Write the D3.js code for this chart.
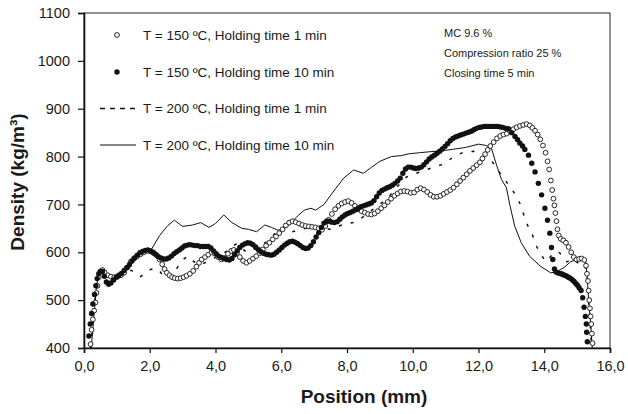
<!DOCTYPE html>
<meta charset="utf-8">
<script src="https://d3js.org/d3.v7.min.js"></script>
<style>
  body { margin: 0; background: #fff; }
  text { font-family: "Liberation Sans", Arial, sans-serif; fill: #1a1a1a; }
</style>
<svg id="chart" width="628" height="414"></svg>
<script>

// tick labels
var xTicks = [0, 2, 4, 6, 8, 10, 12, 14, 16];
var xTickLabels = ["0,0", "2,0", "4,0", "6,0", "8,0", "10,0", "12,0", "14,0", "16,0"];
var yTicks = [400, 500, 600, 700, 800, 900, 1000, 1100];

var seriesNames = [
  "T = 150 \u00baC, Holding time 1 min",
  "T = 150 \u00baC, Holding time 10 min",
  "T = 200 \u00baC, Holding time 1 min",
  "T = 200 \u00baC, Holding time 10 min"
];

var notes = ["MC 9.6 %", "Compression ratio 25 %", "Closing time 5 min"];

// T = 150, 1 min  (open circles)  [position mm, density]
var t150h1 = [
  [0.20,408],[0.23,438],[0.27,460],[0.31,478],[0.35,495],[0.38,515],[0.41,530],[0.45,548],[0.50,560],[0.56,563],
  [0.63,558],[0.72,552],[0.82,549],[0.92,548],[1.02,549],[1.12,552],[1.22,557],[1.32,568],[1.42,580],[1.52,587],
  [1.62,592],[1.72,596],[1.82,600],[1.92,603],[2.02,602],[2.12,598],[2.22,593],[2.30,585],[2.38,575],[2.45,565],
  [2.52,557],[2.60,552],[2.68,548],[2.76,546],[2.85,545],[2.94,546],[3.03,548],[3.12,551],[3.22,555],[3.32,561],
  [3.42,570],[3.50,578],[3.58,585],[3.68,590],[3.78,595],[3.88,600],[3.98,597],[4.08,590],[4.18,585],[4.28,588],
  [4.38,597],[4.48,603],[4.56,605],[4.65,598],[4.74,590],[4.84,582],[4.94,578],[5.04,582],[5.14,587],[5.24,592],
  [5.34,598],[5.44,606],[5.54,614],[5.64,620],[5.74,627],[5.84,633],[5.94,640],[6.04,648],[6.14,656],[6.24,662],
  [6.34,665],[6.44,663],[6.54,660],[6.64,657],[6.74,655],[6.84,654],[6.94,653],[7.04,652],[7.14,650],[7.24,647],
  [7.34,655],[7.44,668],[7.54,680],[7.64,690],[7.74,697],[7.84,702],[7.94,705],[8.04,707],[8.14,703],[8.24,697],
  [8.34,690],[8.44,686],[8.54,683],[8.64,680],[8.74,679],[8.84,681],[8.94,686],[9.04,692],[9.14,698],[9.24,705],
  [9.34,712],[9.44,718],[9.54,723],[9.64,727],[9.74,728],[9.84,727],[9.94,724],[10.04,725],[10.14,731],[10.24,734],
  [10.34,731],[10.44,726],[10.54,720],[10.64,716],[10.74,716],[10.84,718],[10.94,722],[11.04,726],[11.14,730],[11.24,735],
  [11.34,742],[11.44,749],[11.54,756],[11.64,763],[11.74,770],[11.84,776],[11.94,782],[12.04,788],[12.12,796],[12.20,805],
  [12.28,814],[12.36,822],[12.46,830],[12.56,838],[12.66,843],[12.76,846],[12.86,848],[12.96,853],[13.06,857],[13.16,861],
  [13.26,864],[13.36,866],[13.46,868],[13.56,865],[13.64,860],[13.72,854],[13.80,846],[13.88,836],[13.96,823],[14.04,808],
  [14.10,790],[14.15,773],[14.20,750],[14.24,730],[14.28,712],[14.31,698],[14.34,682],[14.37,665],[14.40,648],[14.44,635],
  [14.50,628],[14.58,625],[14.66,620],[14.74,611],[14.82,600],[14.90,590],[14.98,585],[15.06,586],[15.14,587],[15.22,584],
  [15.27,572],[15.30,555],[15.33,540],[15.35,520],[15.37,500],[15.39,483],[15.41,466],[15.43,450],[15.45,430],[15.47,410]
];

// T = 150, 10 min  (filled dots)
var t150h10 = [
  [0.15,425],[0.19,450],[0.23,472],[0.27,492],[0.32,512],[0.36,530],[0.40,545],[0.45,555],[0.50,560],[0.56,560],
  [0.62,550],[0.68,538],[0.75,533],[0.82,536],[0.90,542],[0.98,548],[1.06,552],[1.14,556],[1.22,562],[1.30,568],
  [1.38,574],[1.46,582],[1.54,588],[1.62,594],[1.70,599],[1.78,602],[1.86,604],[1.94,605],[2.02,603],[2.10,600],
  [2.18,596],[2.26,591],[2.34,588],[2.42,586],[2.50,586],[2.58,588],[2.66,592],[2.74,597],[2.82,601],[2.90,605],
  [2.98,609],[3.06,613],[3.14,615],[3.22,616],[3.30,615],[3.38,614],[3.46,614],[3.54,612],[3.62,612],[3.70,612],
  [3.78,612],[3.86,609],[3.94,603],[4.02,597],[4.10,592],[4.18,589],[4.26,587],[4.34,585],[4.42,584],[4.50,587],
  [4.58,595],[4.66,603],[4.74,610],[4.82,615],[4.90,618],[4.98,620],[5.06,619],[5.14,616],[5.22,611],[5.30,606],
  [5.38,601],[5.46,598],[5.54,596],[5.62,595],[5.70,594],[5.78,596],[5.86,600],[5.94,605],[6.02,610],[6.10,615],
  [6.18,619],[6.26,622],[6.34,623],[6.42,621],[6.50,618],[6.58,614],[6.66,610],[6.74,608],[6.82,609],[6.90,614],
  [6.98,622],[7.06,632],[7.14,641],[7.22,652],[7.30,661],[7.38,665],[7.46,665],[7.54,663],[7.62,662],[7.70,664],
  [7.78,669],[7.86,674],[7.94,678],[8.02,681],[8.10,683],[8.18,686],[8.26,689],[8.34,692],[8.42,695],[8.50,697],
  [8.58,699],[8.66,701],[8.74,703],[8.82,708],[8.90,716],[8.98,724],[9.06,729],[9.14,732],[9.22,735],[9.30,737],
  [9.38,740],[9.46,744],[9.54,749],[9.62,755],[9.70,765],[9.78,774],[9.86,778],[9.94,778],[10.02,776],[10.10,775],
  [10.18,776],[10.26,778],[10.34,783],[10.42,789],[10.50,795],[10.58,799],[10.66,803],[10.74,807],[10.82,811],[10.90,816],
  [10.98,821],[11.06,827],[11.14,833],[11.22,838],[11.30,841],[11.38,843],[11.46,845],[11.54,847],[11.62,849],[11.70,851],
  [11.78,853],[11.86,856],[11.94,859],[12.02,861],[12.10,862],[12.18,863],[12.26,863],[12.34,863],[12.42,863],[12.50,863],
  [12.58,863],[12.66,862],[12.74,861],[12.82,859],[12.91,858],[13.01,850],[13.11,842],[13.19,835],[13.26,828],[13.34,822],
  [13.41,815],[13.52,803],[13.62,786],[13.72,768],[13.82,744],[13.92,720],[14.02,692],[14.10,667],[14.17,640],[14.22,610],
  [14.26,585],[14.31,565],[14.36,559],[14.41,557],[14.46,556],[14.51,555],[14.56,554],[14.61,552],[14.66,551],[14.71,549],
  [14.76,547],[14.81,545],[14.86,542],[14.91,539],[14.96,535],[15.01,531],[15.06,526],[15.12,520],[15.17,505],[15.21,485],
  [15.25,466],[15.28,450],[15.29,433],[15.31,413]
];

// T = 200, 1 min  (dashed line)
var t200h1 = [
  [0.20,400],[0.28,460],[0.36,520],[0.44,550],[0.55,557],[0.70,548],[0.90,550],[1.10,556],[1.30,561],[1.45,562],
  [1.60,552],[1.72,549],[1.85,556],[1.97,563],[2.12,566],[2.26,565],[2.38,553],[2.48,545],[2.62,552],[2.77,560],
  [2.92,577],[3.05,587],[3.18,592],[3.32,582],[3.45,574],[3.60,576],[3.75,580],[3.90,586],[4.05,591],[4.20,596],
  [4.35,603],[4.50,612],[4.64,618],[4.80,608],[4.95,600],[5.15,605],[5.35,612],[5.55,622],[5.75,635],[5.95,650],
  [6.10,652],[6.30,642],[6.50,646],[6.75,650],[7.00,652],[7.25,650],[7.50,648],[7.75,655],[8.00,660],[8.20,662],
  [8.45,672],[8.70,685],[8.95,698],[9.25,714],[9.50,735],[9.80,757],[10.10,765],[10.40,772],[10.68,779],[10.93,784],
  [11.23,799],[11.54,809],[11.85,811],[12.10,807],[12.35,796],[12.55,776],[12.75,756],[12.95,738],[13.11,722],[13.26,702],
  [13.36,682],[13.46,661],[13.62,640],[13.77,612],[13.95,590],[14.07,580],[14.18,590],[14.28,598],[14.40,602],[14.48,598],
  [14.58,586],[14.68,580],[14.78,583],[14.88,576],[14.98,580],[15.08,575],[15.18,578],[15.25,570],[15.30,545],[15.35,500],
  [15.40,450],[15.44,400]
];

// T = 200, 10 min  (solid line)
var t200h10 = [
  [0.22,400],[0.30,465],[0.38,530],[0.45,556],[0.55,565],[0.70,556],[0.90,549],[1.20,560],[1.50,580],[1.80,600],
  [2.05,606],[2.30,635],[2.55,656],[2.75,667],[3.00,654],[3.30,657],[3.55,662],[3.80,652],[4.00,660],[4.25,678],
  [4.50,662],[4.80,650],[5.00,648],[5.25,643],[5.50,657],[5.70,652],[5.90,646],[6.10,650],[6.30,662],[6.50,676],
  [6.70,688],[6.90,692],[7.05,688],[7.30,700],[7.60,728],[7.90,755],[8.20,772],[8.50,765],[8.75,778],[9.00,790],
  [9.35,800],[9.65,802],[9.90,806],[10.20,808],[10.50,810],[10.90,812],[11.20,815],[11.60,819],[12.00,826],[12.25,823],
  [12.40,816],[12.55,782],[12.70,752],[12.85,735],[12.95,700],[13.10,655],[13.30,620],[13.55,592],[13.90,570],[14.20,557],
  [14.40,560],[14.60,568],[14.80,580],[15.10,588],[15.25,582],[15.30,555],[15.35,500],[15.42,445],[15.46,400]
];

var svg = d3.select("#chart");
var margin = {left: 84, right: 18, top: 13, bottom: 66};
var W = 628, H = 414;

var x = d3.scaleLinear().domain([0, 16]).range([margin.left, W - margin.right]);
var y = d3.scaleLinear().domain([400, 1100]).range([H - margin.bottom, margin.top]);

// frame
svg.append("rect")
    .attr("x", x(0)).attr("y", y(1100))
    .attr("width", x(16) - x(0)).attr("height", y(400) - y(1100))
    .attr("fill", "none").attr("stroke", "#222").attr("stroke-width", 1);

// axes
var xAxis = svg.append("g")
    .attr("transform", "translate(0," + y(400) + ")")
    .call(d3.axisBottom(x).tickValues(xTicks).tickSize(5).tickPadding(8)
        .tickFormat(function(d, i) { return xTickLabels[i]; }));
var yAxis = svg.append("g")
    .attr("transform", "translate(" + x(0) + ",0)")
    .call(d3.axisLeft(y).tickValues(yTicks).tickSize(6).tickPadding(8)
        .tickFormat(d3.format("d")));

[xAxis, yAxis].forEach(function(g) {
  g.select(".domain").attr("stroke", "#111").attr("stroke-width", 1.6);
  g.selectAll(".tick line").attr("stroke", "#111").attr("stroke-width", 1.2);
  g.selectAll(".tick text")
      .style("font-family", "'Liberation Sans', Arial, sans-serif")
      .style("font-size", "14.5px").attr("fill", "#222");
});

// axis titles
svg.append("text")
    .attr("x", 364).attr("y", 403)
    .attr("text-anchor", "middle")
    .style("font-size", "19px").style("font-weight", "bold")
    .text("Position (mm)");

svg.append("text")
    .attr("transform", "translate(24,182) rotate(-90)")
    .attr("text-anchor", "middle")
    .style("font-size", "19px").style("font-weight", "bold")
    .text("Density (kg/m\u00b3)");

// curves
var line = d3.line()
    .x(function(d) { return x(d[0]); })
    .y(function(d) { return y(d[1]); });

svg.append("path")
    .datum(t200h10)
    .attr("d", line)
    .attr("fill", "none").attr("stroke", "#111").attr("stroke-width", 1);

svg.append("path")
    .datum(t200h1)
    .attr("d", line)
    .attr("fill", "none").attr("stroke", "#111").attr("stroke-width", 1.5)
    .attr("stroke-dasharray", "3,9");

svg.append("g")
    .selectAll("circle")
    .data(t150h1)
    .enter()
    .append("circle")
      .attr("cx", function(d) { return x(d[0]); })
      .attr("cy", function(d) { return y(d[1]); })
      .attr("r", 2.4)
      .attr("fill", "#fff").attr("stroke", "#111").attr("stroke-width", 0.9);

svg.append("g")
    .selectAll("circle")
    .data(t150h10)
    .enter()
    .append("circle")
      .attr("cx", function(d) { return x(d[0]); })
      .attr("cy", function(d) { return y(d[1]); })
      .attr("r", 2.7)
      .attr("fill", "#111");

// legend
var leg = svg.append("g");
var rowY = [35, 72, 108.5, 145];
leg.append("circle").attr("cx", 117).attr("cy", rowY[0]).attr("r", 2.4)
    .attr("fill", "#fff").attr("stroke", "#111").attr("stroke-width", 0.9);
leg.append("circle").attr("cx", 117).attr("cy", rowY[1]).attr("r", 2.7).attr("fill", "#111");
leg.append("line").attr("x1", 100).attr("x2", 136).attr("y1", rowY[2]).attr("y2", rowY[2])
    .attr("stroke", "#111").attr("stroke-width", 1.5).attr("stroke-dasharray", "5,5");
leg.append("line").attr("x1", 100).attr("x2", 136).attr("y1", rowY[3]).attr("y2", rowY[3])
    .attr("stroke", "#111").attr("stroke-width", 1);

leg.selectAll("text")
    .data(seriesNames)
    .enter()
    .append("text")
      .attr("x", 143)
      .attr("y", function(d, i) { return rowY[i] + 4.8; })
      .style("font-size", "13.5px")
      .text(function(d) { return d; });

// notes
svg.append("g")
    .selectAll("text")
    .data(notes)
    .enter()
    .append("text")
      .attr("x", 444)
      .attr("y", function(d, i) { return 37 + i * 20; })
      .style("font-size", "11px")
      .text(function(d) { return d; });

</script>
